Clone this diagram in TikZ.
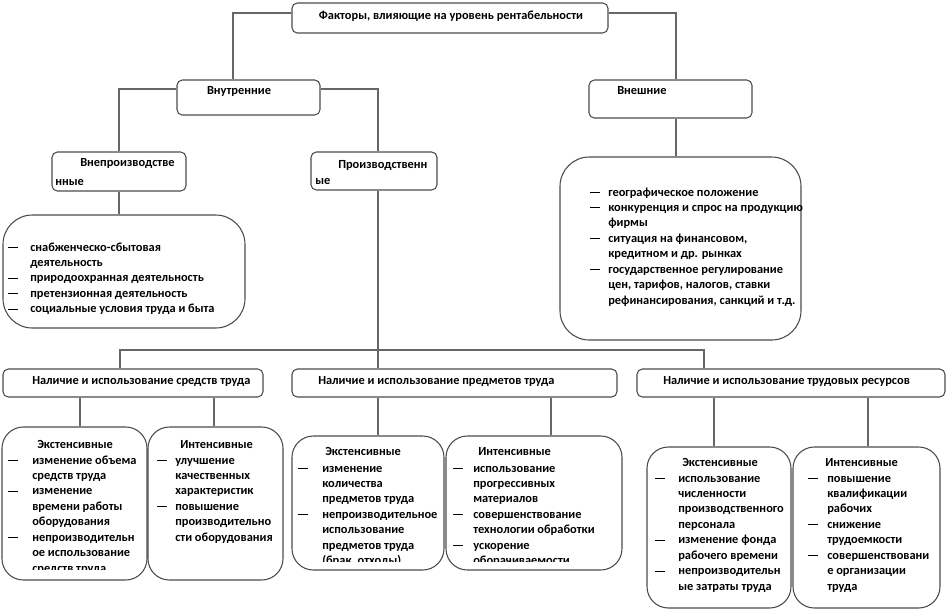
\documentclass[tikz,border=0pt]{standalone}
\usepackage{fontspec}
\setmainfont{Carlito}
\usetikzlibrary{fit}
\newcommand{\dsh}{\rule[2.3pt]{7.3pt}{0.75pt}}
\newcommand{\dlist}[2]{\begin{tabular}[t]{@{}p{#1}@{}l@{}}#2\end{tabular}}
\begin{document}
\begin{tikzpicture}[x=0.75pt,y=-0.75pt,
 sbox/.style={draw=black!70, line width=0.8pt, fill=white, rounded corners=4pt, inner sep=0pt},
 lbox/.style={draw=black!70, line width=0.8pt, fill=white, rounded corners=16pt, inner sep=0pt},
 conn/.style={draw=black!60, line width=0.8pt},
 txt/.style={inner sep=0pt, anchor=base west, font=\fontsize{9.3}{11.6}\selectfont\bfseries},
 txtc/.style={txt, anchor=base},
]
\useasboundingbox (0,0) rectangle (947,612);
\fill[white] (0,0) rectangle (947,612);
% boxes
\node[sbox, fit={(292,3)(608,33)}] (top) {};
\node[sbox, fit={(177,80)(320,115)}] (intern) {};
\node[sbox, fit={(589,80)(752,118)}] (extern) {};
\node[sbox, fit={(52,152)(186,191)}] (nonprod) {};
\node[sbox, fit={(311,152)(437,190)}] (prod) {};
\node[lbox, rounded corners=22pt, fit={(3,215)(245,328)}] (ibig) {};
\node[lbox, rounded corners=22pt, fit={(560,157)(801,340)}] (ebig) {};
\node[sbox, fit={(3,369)(263,397)}] (r1) {};
\node[sbox, fit={(292,369)(617,397)}] (r2) {};
\node[sbox, fit={(637,369)(945,397)}] (r3) {};
\node[lbox, fit={(2,427)(147,580)}] (e1) {};
\node[lbox, fit={(148,427)(283,580)}] (i1) {};
\node[lbox, fit={(292,436)(444,570)}] (e2) {};
\node[lbox, fit={(446,436)(622,570)}] (i2) {};
\node[lbox, fit={(647,447)(791,608)}] (e3) {};
\node[lbox, fit={(793,447)(940,608)}] (i3) {};
% connectors
\draw[conn] (top.west |- 0,13) -| (233,0 |- intern.north);
\draw[conn] (top.east |- 0,13) -| (676,0 |- extern.north);
\draw[conn] (intern.west |- 0,89) -| (nonprod.north);
\draw[conn] (intern.east |- 0,89) -| (378,0 |- prod.north);
\draw[conn] (nonprod.south) -- (nonprod.south |- ibig.north);
\draw[conn] (676,0 |- extern.south) -- (676,0 |- ebig.north);
\coordinate (bus) at (378,350);
\draw[conn] (378,0 |- prod.south) -- (bus);
\draw[conn] (120,0 |- r1.north) |- (bus) -| (704,0 |- r3.north);
\draw[conn] (bus) -- (378,0 |- r2.north);
\draw[conn] (80,0 |- r1.south) -- (80,0 |- e1.north);
\draw[conn] (214,0 |- r1.south) -- (214,0 |- i1.north);
\draw[conn] (378,0 |- r2.south) -- (378,0 |- e2.north);
\draw[conn] (551,0 |- r2.south) -- (551,0 |- i2.north);
\draw[conn] (714,0 |- r3.south) -- (714,0 |- e3.north);
\draw[conn] (868,0 |- r3.south) -- (868,0 |- i3.north);
% titles
\node[txtc] (ttop) at (451,19) {Факторы, влияющие на уровень рентабельности};
\node[txtc] (tint) at (239,94) {Внутренние};
\node[txt] (text) at (617,94) {Внешние};
\node[txt] (tnp1) at (80,166) {Внепроизводстве};
\node[txt] (tnp2) at (55,185) {нные};
\node[txt] (tp1) at (338,168) {Производственн};
\node[txt] (tp2) at (315,184) {ые};
\node[txt] (tr1) at (32,384) {Наличие и использование средств труда};
\node[txt] (tr2) at (318,384) {Наличие и использование предметов труда};
\node[txt] (tr3) at (663,384) {Наличие и использование трудовых ресурсов};
% big lists
\node[txt] (libig) at (8,251) {\dlist{16.5pt}{\dsh & снабженческо-сбытовая\\ & деятельность\\ \dsh & природоохранная деятельность\\ \dsh & претензионная деятельность\\ \dsh & социальные условия труда и быта}};
\node[txt] (lebig) at (590,196) {\dlist{13.5pt}{\dsh & географическое положение\\ \dsh & конкуренция и спрос на продукцию\\ & фирмы\\ \dsh & ситуация на финансовом,\\ & кредитном и др. рынках\\ \dsh & государственное регулирование\\ & цен, тарифов, налогов, ставки\\ & рефинансирования, санкций и т.д.}};
% bottom headings
\node[txt] (he1) at (37,448) {Экстенсивные};
\node[txt] (hi1) at (180,448) {Интенсивные};
\node[txt] (he2) at (325,455) {Экстенсивные};
\node[txt] (hi2) at (478,455) {Интенсивные};
\node[txt] (he3) at (682,466) {Экстенсивные};
\node[txt] (hi3) at (825,466) {Интенсивные};
% bottom lists
\begin{scope}
\clip (2,427) rectangle (147,569);
\node[txt] (le1) at (8,464) {\dlist{18pt}{\dsh & изменение объема\\ & средств труда\\ \dsh & изменение\\ & времени работы\\ & оборудования\\ \dsh & непроизводительн\\ & ое использование\\ & средств труда}};
\end{scope}
\node[txt] (li1) at (157,464) {\dlist{13.5pt}{\dsh & улучшение\\ & качественных\\ & характеристик\\ \dsh & повышение\\ & производительно\\ & сти оборудования}};
\begin{scope}
\clip (292,436) rectangle (444,561);
\node[txt] (le2) at (298,472) {\dlist{18pt}{\dsh & изменение\\ & количества\\ & предметов труда\\ \dsh & непроизводительное\\ & использование\\ & предметов труда\\ & (брак, отходы)}};
\end{scope}
\begin{scope}
\clip (446,436) rectangle (622,561);
\node[txt] (li2) at (453,472) {\dlist{15pt}{\dsh & использование\\ & прогрессивных\\ & материалов\\ \dsh & совершенствование\\ & технологии обработки\\ \dsh & ускорение\\ & оборачиваемости}};
\end{scope}
\node[txt] (le3) at (655,482) {\dlist{17.25pt}{\dsh & использование\\ & численности\\ & производственного\\ & персонала\\ \dsh & изменение фонда\\ & рабочего времени\\ \dsh & непроизводительн\\ & ые затраты труда}};
\node[txt] (li3) at (808,482) {\dlist{14.25pt}{\dsh & повышение\\ & квалификации\\ & рабочих\\ \dsh & снижение\\ & трудоемкости\\ \dsh & совершенствовани\\ & е организации\\ & труда}};
\end{tikzpicture}
\end{document}
